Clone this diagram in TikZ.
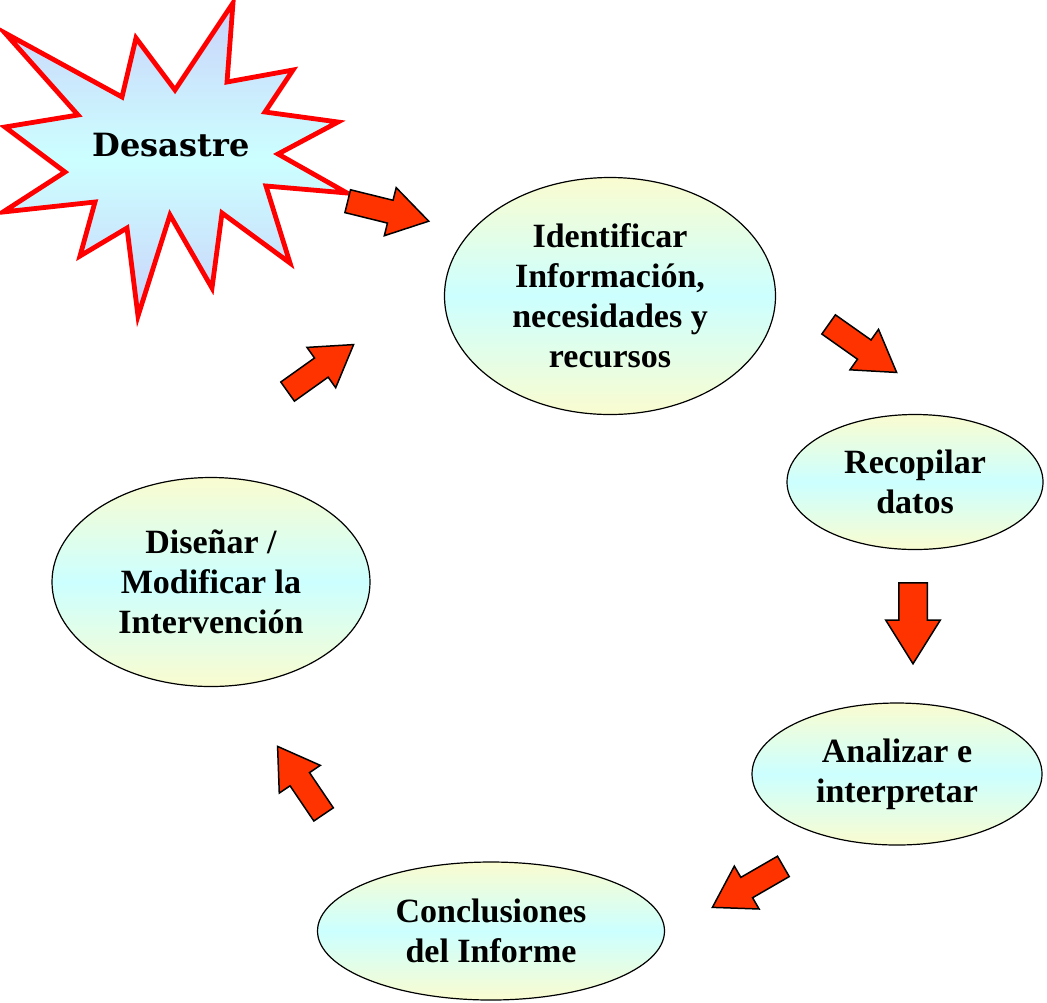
\documentclass[tikz,border=0pt]{standalone}
\usepackage{fontspec}
\setmainfont{Liberation Serif}
\newfontfamily\burstfont{DejaVu Serif}
\usetikzlibrary{shapes.geometric,shapes.arrows,calc}
\definecolor{paleyellow}{HTML}{FAFCD0}
\definecolor{palecyan}{HTML}{CCFFFF}
\definecolor{palelavender}{HTML}{CAD2FA}
\definecolor{arrowred}{HTML}{FF3300}
\tikzset{
  stepnode/.style={ellipse, draw, line width=0.6pt, inner sep=0pt, align=center,
    top color=paleyellow, bottom color=paleyellow, middle color=palecyan,
    font=\fontsize{17}{20}\selectfont\bfseries},
  burst/.style={draw=red, line width=2.4pt, line join=miter,
    top color=palelavender, bottom color=palelavender, middle color=palecyan},
  arrowbox/.style={single arrow, draw=black, fill=arrowred, line width=0.75pt,
    line join=miter, inner xsep=0pt, single arrow head extend=6.5pt,
    single arrow tip angle=64, anchor=tail}
}
\newcommand{\flecha}[3][22]{%
  \path let \p1=($(#3)-(#2)$) in
    node[arrowbox, inner ysep={#1*0.25pt}, minimum height={veclen(\x1,\y1)},
      rotate={atan2(\y1,\x1)}] at (#2) {};}

\begin{document}
\begin{tikzpicture}[x=0.5pt,y=-0.5pt]
\useasboundingbox (0,0) rectangle (1047,1002);
\draw[burst] (5,33) -- (122,97) -- (136,38) -- (175,90) -- (233,3) -- (227,82)
  -- (293,70) -- (265,112) -- (338,122) -- (278,154) -- (347,193) -- (266,186)
  -- (290,263) -- (222,213) -- (212,288) -- (170,215) -- (138,316) -- (127,228)
  -- (80,256) -- (95,202) -- (3,212) -- (65,172) -- (5,127) -- (78,115) -- cycle;
\node[font=\burstfont\fontsize{16}{19}\selectfont\bfseries] (0) at (171,145) {Desastre};
\node[stepnode, minimum width=165.5pt, minimum height=118.5pt] (1) at (610,296) {Identificar\\Información,\\necesidades y\\recursos};
\node[stepnode, minimum width=128pt, minimum height=67.5pt] (2) at (915,482) {Recopilar\\datos};
\node[stepnode, minimum width=145pt, minimum height=71pt] (3) at (897,774) {Analizar e\\interpretar};
\node[stepnode, minimum width=173.5pt, minimum height=69pt] (4) at (491,931) {Conclusiones\\del Informe};
\node[stepnode, minimum width=159pt, minimum height=104.5pt] (5) at (211,582) {Diseñar /\\Modificar la\\Intervención};
\coordinate (a0) at (347,201);
\coordinate (a1) at (428,221);
\coordinate (b0) at (828,324);
\coordinate (b1) at (896,372);
\coordinate (c0) at (913,582);
\coordinate (c1) at (913,663);
\coordinate (d0) at (784,866);
\coordinate (d1) at (713,907);
\coordinate (e0) at (324,815);
\coordinate (e1) at (278,747);
\coordinate (f0) at (287,392);
\coordinate (f1) at (353,345);
\flecha{a0}{a1}
\flecha{b0}{b1}
\flecha[27]{c0}{c1}
\flecha{d0}{d1}
\flecha{e0}{e1}
\flecha{f0}{f1}
\end{tikzpicture}
\end{document}
